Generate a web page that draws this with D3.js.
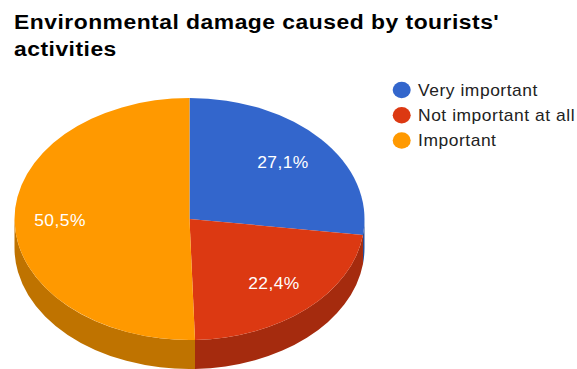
<!DOCTYPE html>
<html>
<head>
<meta charset="utf-8">
<script src="https://cdn.jsdelivr.net/npm/d3@7/dist/d3.min.js"></script>
<style>
html,body{margin:0;padding:0;background:#fff}
svg{display:block}
text{font-family:"Liberation Sans",Arial,sans-serif}
</style>
</head>
<body>
<svg id="chart" width="577" height="369"></svg>
<script>
const titleLines = ["Environmental damage caused by tourists'", "activities"];
const categories = ["Very important", "Not important at all", "Important"];
const shares = [27.1, 22.4, 50.5];
const topColors = ["#3366cc", "#dc3912", "#ff9900"];
const sideColors = ["#264d99", "#a52b0e", "#bf7300"];
const labelReach = [0.71, 0.72, 0.74];

const cx = 189.5, cy = 219, rx = 175, ry = 121, depth = 29;
const squash = ry / rx;
const textStretch = 1.09;

const svg = d3.select("#chart");

// Title
svg.append("g").selectAll("text").data(titleLines).join("text")
  .attr("transform", (d, i) => `translate(14,${29 + i * 27}) scale(${textStretch},1)`)
  .attr("font-size", 21)
  .attr("font-weight", "bold")
  .attr("letter-spacing", 0.45)
  .attr("fill", "#000")
  .text(d => d);

// Pie geometry: drawn as a circle, flattened by a vertical scale
const arcs = d3.pie().sort(null).value(d => d)(shares);
const arc = d3.arc().innerRadius(0).outerRadius(rx);
const pie = svg.append("g").attr("transform", `translate(${cx},${cy}) scale(1,${squash})`);

// Visible wall of each slice: the part of its rim on the front half of the disc
const frontStart = Math.PI / 2, frontEnd = Math.PI * 1.5;
const wallPath = a => {
  const a0 = Math.max(a.startAngle, frontStart), a1 = Math.min(a.endAngle, frontEnd);
  if (a1 <= a0) return null;
  const p = d3.path(), off = -Math.PI / 2, dy = depth / squash;
  p.arc(0, 0, rx, a0 + off, a1 + off);
  p.arc(0, dy, rx, a1 + off, a0 + off, true);
  p.closePath();
  return p.toString();
};

pie.append("g").selectAll("path").data(arcs).join("path")
  .attr("d", wallPath)
  .attr("fill", (d, i) => sideColors[i]);

pie.append("g").selectAll("path").data(arcs).join("path")
  .attr("d", arc)
  .attr("fill", (d, i) => topColors[i]);

// Percentage labels, placed along each slice's mid-angle on the flattened disc
const fmt = v => d3.format(".1f")(v).replace(".", ",") + "%";
const midAngle = d => (d.startAngle + d.endAngle) / 2;
svg.append("g").selectAll("text").data(arcs).join("text")
  .attr("transform", (d, i) => {
    const x = cx + Math.sin(midAngle(d)) * rx * labelReach[i];
    const y = cy - Math.cos(midAngle(d)) * ry * labelReach[i];
    return `translate(${x},${y}) scale(${textStretch},1)`;
  })
  .attr("dy", "0.35em")
  .attr("text-anchor", "middle")
  .attr("font-size", 16)
  .attr("letter-spacing", 0.4)
  .attr("fill", "#fff")
  .text(d => fmt(d.data));

// Legend
const legendY = d3.scalePoint().domain(categories).range([90, 140.5]);
const legend = svg.append("g").selectAll("g").data(categories).join("g")
  .attr("transform", d => `translate(0,${legendY(d)})`);
legend.append("ellipse")
  .attr("cx", 401.7).attr("rx", 9).attr("ry", 8.3)
  .attr("fill", (d, i) => topColors[i]);
legend.append("text")
  .attr("transform", `translate(418,0) scale(${textStretch},1)`)
  .attr("dy", "0.35em")
  .attr("font-size", 16)
  .attr("letter-spacing", 0.5)
  .attr("fill", "#222")
  .text(d => d);
</script>
</body>
</html>
